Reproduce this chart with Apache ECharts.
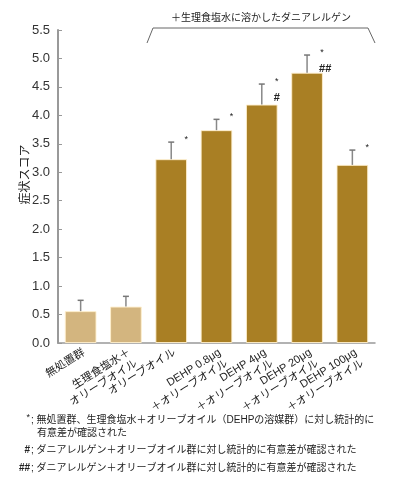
<!DOCTYPE html>
<html>
<head>
<meta charset="utf-8">
<script src="https://cdn.jsdelivr.net/npm/echarts@6/dist/echarts.min.js"></script>
<style>
  html, body { margin: 0; padding: 0; background: #fff; }
  #chart { width: 397px; height: 492px; }
</style>
</head>
<body>
<div id="chart"></div>
<script>
// カテゴリ
const categories = [
  '無処置群',
  '生理食塩水＋\nオリーブオイル',
  'オリーブオイル',
  'DEHP 0.8μg\n＋オリーブオイル',
  'DEHP 4μg\n＋オリーブオイル',
  'DEHP 20μg\n＋オリーブオイル',
  'DEHP 100μg\n＋オリーブオイル'
];
// 症状スコア（平均値）と誤差
const scores = [0.56, 0.64, 3.23, 3.74, 4.19, 4.75, 3.13];
const errors = [0.19, 0.18, 0.30, 0.19, 0.36, 0.31, 0.26];
// 有意差マーク
const stars = ['', '', '*', '*', '*', '*', '*'];
const hashes = ['', '', '', '', '#', '##', ''];
// 対照群かどうか（色分け用）
const isControl = [true, true, false, false, false, false, false];

const yTicks = { min: 0, max: 5.5, interval: 0.5 };

// 注釈
const notes = [
  { mark: '*', text: '; 無処置群、生理食塩水＋オリーブオイル（DEHPの溶媒群）に対し統計的に', y: 420 },
  { mark: '', text: '有意差が確認された', y: 433, indent: true },
  { mark: '#', text: '; ダニアレルゲン＋オリーブオイル群に対し統計的に有意差が確認された', y: 450 },
  { mark: '##', text: '; ダニアレルゲン＋オリーブオイル群に対し統計的に有意差が確認された', y: 468 }
];

const font = "'Liberation Sans', 'Noto Sans CJK JP', sans-serif";
const lightColor = '#d3b57f';
const darkColor = '#a97f24';

const chart = echarts.init(document.getElementById('chart'), null, { renderer: 'canvas' });

const noteGraphics = [];
notes.forEach(n => {
  if (n.mark) {
    noteGraphics.push({
      type: 'text',
      style: {
        x: 30, y: n.y + (n.mark === '*' ? -2 : 0), text: n.mark,
        font: (n.mark === '*' ? '9px ' : 'bold 10px ') + font,
        fill: '#222', align: 'right', verticalAlign: 'middle'
      }
    });
  }
  noteGraphics.push({
    type: 'text',
    style: {
      x: n.indent ? 37 : 31, y: n.y, text: n.text,
      font: '10px ' + font, fill: '#222', align: 'left', verticalAlign: 'middle'
    }
  });
});

const option = {
  animation: false,
  grid: { left: 58, right: 22, top: 30, bottom: 149 },
  xAxis: {
    type: 'category',
    data: categories,
    axisLine: { lineStyle: { color: '#999', width: 1.5 } },
    axisTick: { show: false },
    axisLabel: {
      rotate: 32,
      margin: 3,
      interval: 0,
      verticalAlign: 'top',
      fontSize: 11,
      lineHeight: 13,
      color: '#222',
      fontFamily: font
    }
  },
  yAxis: {
    type: 'value',
    min: yTicks.min,
    max: yTicks.max,
    interval: yTicks.interval,
    name: '症状スコア',
    nameLocation: 'middle',
    nameRotate: 90,
    nameGap: 26,
    nameMoveOverlap: false,
    nameTextStyle: { fontSize: 12, color: '#222', fontFamily: font, padding: [0, 0, 0, 24] },
    axisLine: { show: true, lineStyle: { color: '#999', width: 2 } },
    axisTick: { show: true, inside: true, length: 4, lineStyle: { color: '#999' } },
    splitLine: { show: false },
    axisLabel: {
      fontSize: 13,
      color: '#333',
      fontFamily: font,
      formatter: v => v.toFixed(1)
    }
  },
  series: [
    {
      type: 'bar',
      barWidth: '70%',
      data: scores.map((v, i) => ({
        value: v,
        itemStyle: { color: isControl[i] ? lightColor : darkColor }
      })),
      itemStyle: { borderColor: 'rgba(255,240,205,0.9)', borderWidth: 1 },
      z: 2
    },
    {
      type: 'custom',
      z: 3,
      data: scores.map((v, i) => [i, v, errors[i]]),
      renderItem: (params, api) => {
        const i = api.value(0);
        const base = api.coord([i, api.value(1)]);
        const top = api.coord([i, api.value(1) + api.value(2)]);
        const cap = 3;
        const children = [
          {
            type: 'line',
            shape: { x1: base[0], y1: base[1], x2: top[0], y2: top[1] },
            style: { stroke: '#888', lineWidth: 1.5 }
          },
          {
            type: 'line',
            shape: { x1: top[0] - cap, y1: top[1], x2: top[0] + cap, y2: top[1] },
            style: { stroke: '#777', lineWidth: 1.5 }
          }
        ];
        if (stars[i]) {
          children.push({
            type: 'text',
            style: {
              x: top[0] + 15, y: top[1] - 3,
              text: stars[i],
              fill: '#222',
              font: '9px ' + font,
              align: 'center',
              verticalAlign: 'middle'
            }
          });
        }
        if (hashes[i]) {
          children.push({
            type: 'text',
            style: {
              x: top[0] + 12, y: top[1] + 14,
              text: hashes[i],
              fill: '#222',
              font: 'bold 11px ' + font,
              align: 'left',
              verticalAlign: 'middle'
            }
          });
        }
        return { type: 'group', children };
      }
    }
  ],
  graphic: [
    {
      type: 'polyline',
      shape: { points: [[147, 43], [153, 28], [368, 28], [375, 43]] },
      style: { stroke: '#666', lineWidth: 1, fill: null }
    },
    {
      type: 'text',
      style: {
        x: 261, y: 18,
        text: '＋生理食塩水に溶かしたダニアレルゲン',
        font: '10px ' + font,
        fill: '#222',
        align: 'center',
        verticalAlign: 'middle'
      }
    }
  ].concat(noteGraphics)
};

chart.setOption(option);
</script>
</body>
</html>
